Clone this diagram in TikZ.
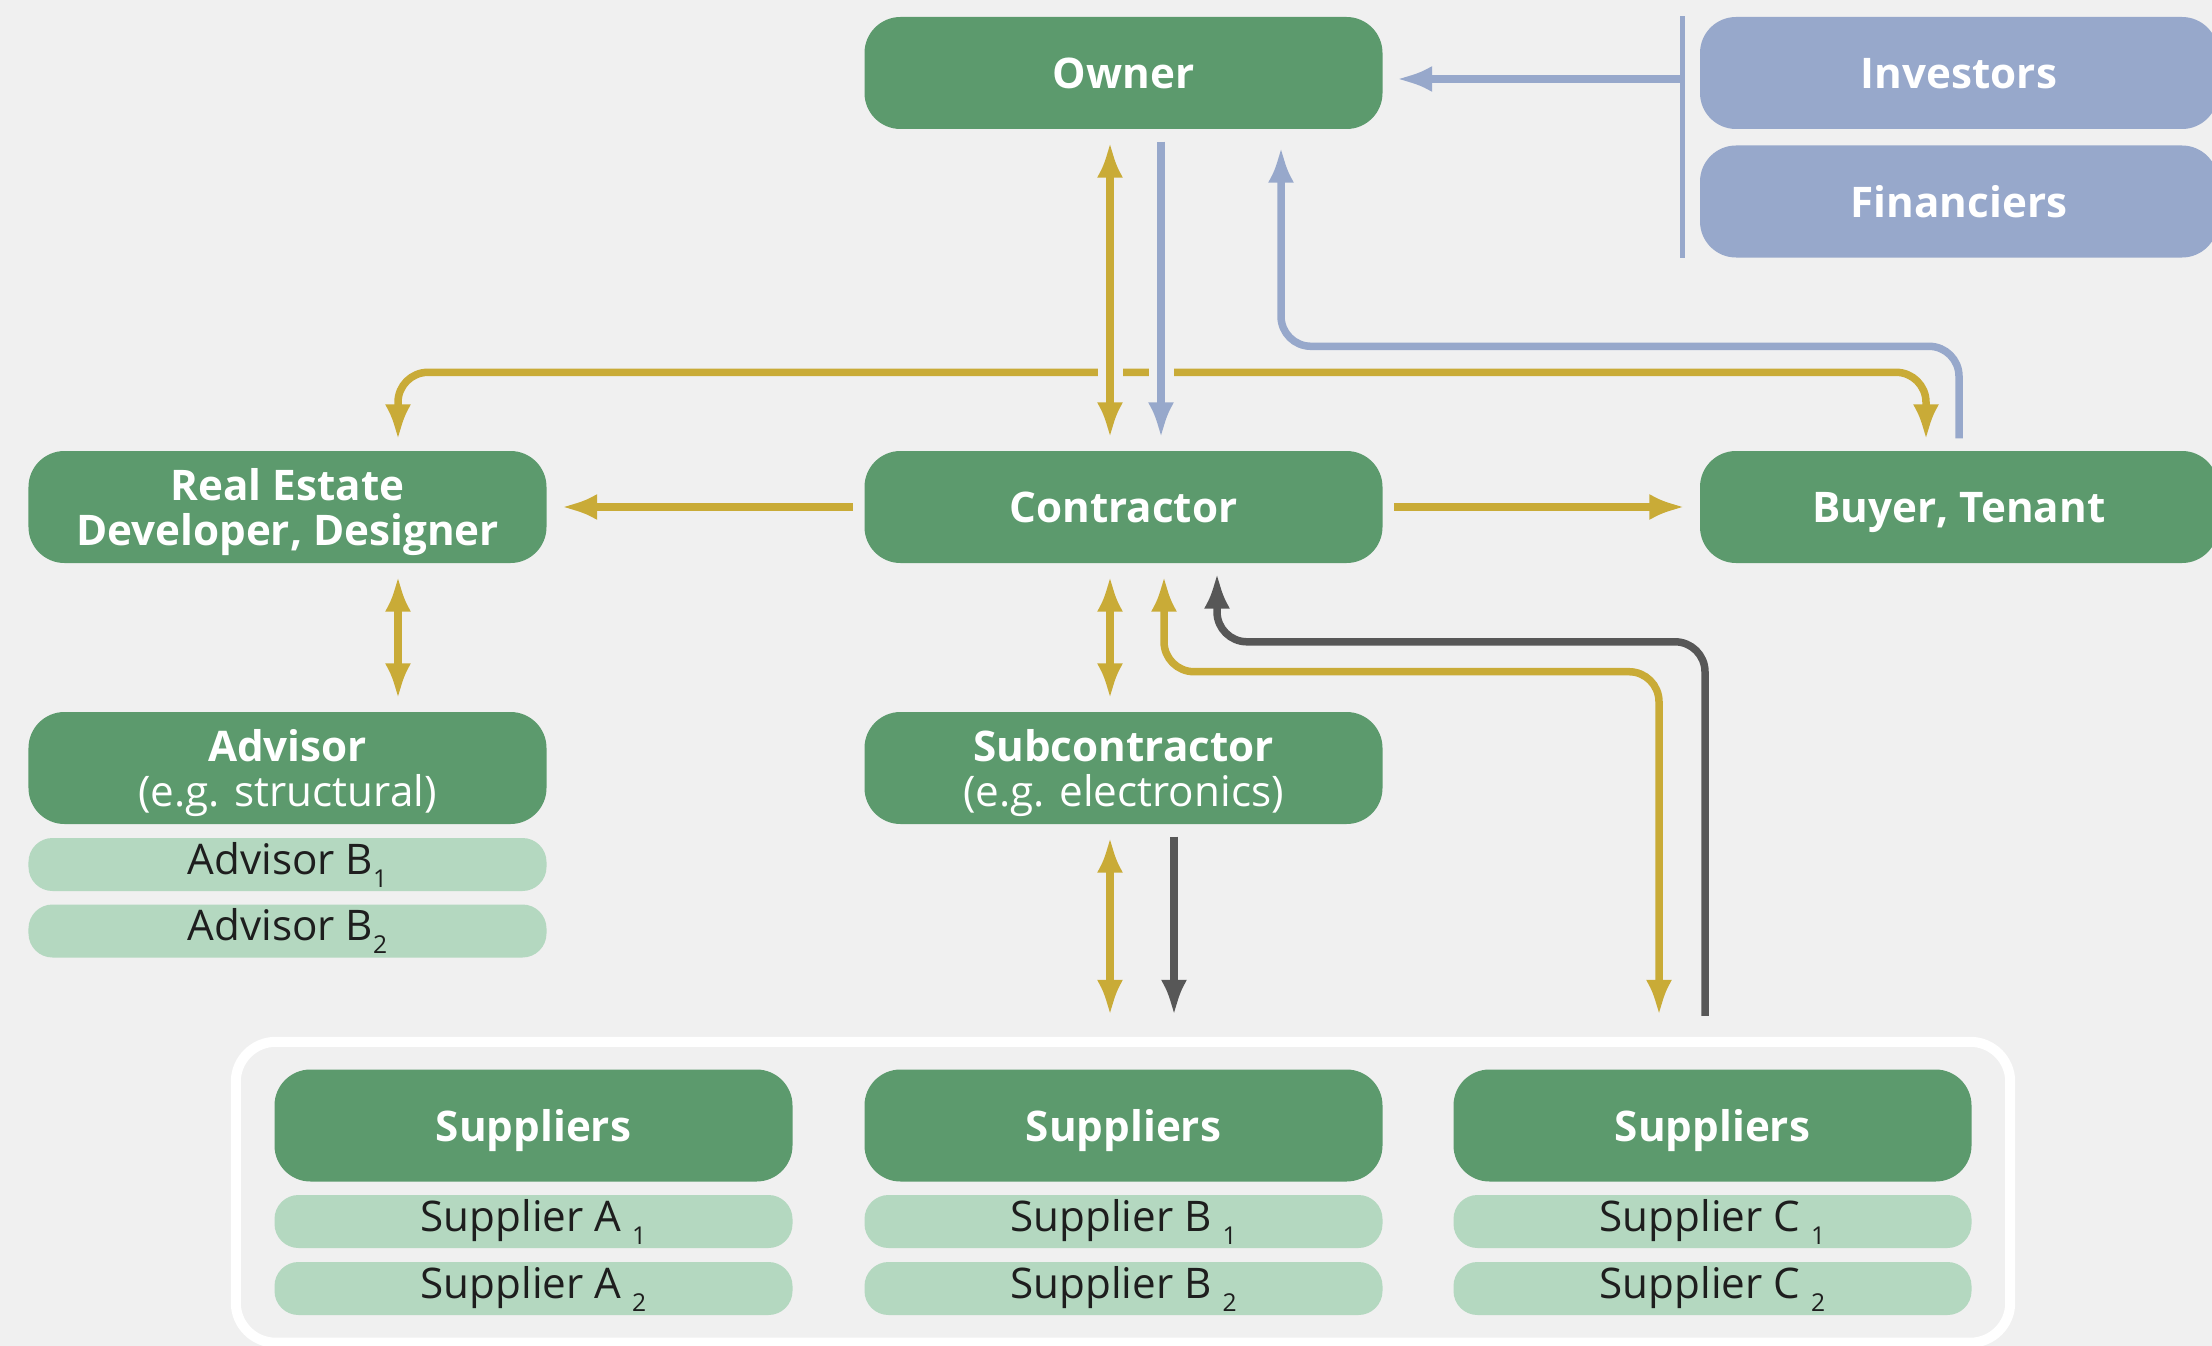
\documentclass[tikz,border=0pt]{standalone}
\usepackage{fontspec}
\setmainfont{Open Sans}
\usetikzlibrary{positioning, arrows.meta, fit}
\definecolor{leaf}{HTML}{5C9A6D}
\definecolor{mint}{HTML}{B4D8C0}
\definecolor{steel}{HTML}{97A8CB}
\definecolor{mustard}{HTML}{C9AB37}
\definecolor{slate}{HTML}{575757}
\definecolor{paper}{HTML}{F0F0F0}
\definecolor{ink}{HTML}{1E1E1E}
\newcommand\lowsub[1]{\raisebox{-3.7pt}{\fontsize{7}{7}\selectfont #1}}
\tikzset{
  mainbox/.style={fill=leaf, text=white, rounded corners=3.6mm, minimum width=51.8mm,
                  minimum height=11.2mm, inner sep=0pt, align=center, text depth=0pt,
                  font=\fontsize{12}{12.6}\selectfont\bfseries},
  fundbox/.style={mainbox, fill=steel},
  itembox/.style={fill=mint, text=ink, rounded corners=2.4mm, minimum width=51.8mm,
                  minimum height=5.3mm, inner sep=0pt, font=\fontsize{12}{12.6}\selectfont},
  link/.style={line width=0.75mm, rounded corners=3mm},
  goldln/.style={link, mustard},
  blueln/.style={link, steel},
  grayln/.style={link, slate},
  halo/.style={preaction={draw=paper, line width=2.5mm, -}}
}

\begin{document}
\begin{tikzpicture}[x=1mm, y=-1mm, >={Latex[length=3.6mm, width=2.6mm]}]
  \fill[paper] (0,0) rectangle (221.2,134.6);
  \useasboundingbox (0,0) rectangle (221.2,134.6);
  % ---- top row: owner and its money side ----
  \node[mainbox] (owner) at (112.35,7.3) {Owner};
  \node[fundbox] (investors) at (195.9,7.3) {Investors};
  \node[fundbox] (financiers) at (195.9,20.15) {Financiers};
  % ---- middle rows ----
  \node[mainbox] (developer) at (28.75,50.7) {Real Estate\\Developer, Designer};
  \node[mainbox] (contractor) at (112.35,50.7) {Contractor};
  \node[mainbox] (buyer) at (195.9,50.7) {Buyer, Tenant};
  \node[mainbox] (advisor) at (28.75,76.8) {Advisor\\{\mdseries(e.g. structural)}};
  \node[itembox] (advB1) at (28.75,86.45) {Advisor B\lowsub{1}};
  \node[itembox] (advB2) at (28.75,93.1) {Advisor B\lowsub{2}};
  \node[mainbox] (subcon) at (112.35,76.8) {Subcontractor\\{\mdseries(e.g. electronics)}};
  % ---- suppliers ----
  \foreach \name/\x/\letter in {supA/53.35/A, supB/112.35/B, supC/171.25/C} {
    \node[mainbox] (\name) at (\x,112.55) {Suppliers};
    \node[itembox] (\name1) at (\x,122.15) {Supplier \letter\ \lowsub{1}};
    \node[itembox] (\name2) at (\x,128.85) {Supplier \letter\ \lowsub{2}};
  }
  \node[draw=white, line width=1mm, rounded corners=4mm, inner xsep=3.8mm, inner ysep=2.7mm,
        fit=(supA)(supC2)] (supply) {};
  % ---- money into owner ----
  \coordinate (fundbar) at (168.2,7.9);
  \draw[steel, line width=0.5mm] (investors.north -| fundbar) -- (financiers.south -| fundbar);
  \draw[blueln, ->] (fundbar) -- ([xshift=1.3mm]owner.east |- fundbar);
  \draw[blueln, ->] ([yshift=1.2mm]buyer.north) -- ++(0,-9.2)
        -| ([xshift=15.75mm, yshift=-1.7mm]owner.south);
  % ---- owner links ----
  \draw[goldln, <->] ([xshift=11.05mm, yshift=1mm]developer.north) -- ++(0,-6.8)
        -| ([xshift=-3.3mm, yshift=1mm]buyer.north);
  \draw[goldln, <->, halo] ([xshift=-1.35mm, yshift=-1.2mm]owner.south)
        -- ([xshift=-1.35mm, yshift=1.2mm]contractor.north);
  \draw[blueln, ->, halo] ([xshift=3.75mm, yshift=-1.2mm]owner.south)
        -- ([xshift=3.75mm, yshift=1.2mm]contractor.north);
  % ---- contractor links ----
  \draw[goldln, ->] ([xshift=-1.1mm]contractor.west) -- ([xshift=1.4mm]developer.east);
  \draw[goldln, ->] ([xshift=1.1mm]contractor.east) -- ([xshift=-1.4mm]buyer.west);
  \draw[goldln, <->] ([xshift=11.05mm, yshift=-1.2mm]developer.south)
        -- ([xshift=11.05mm, yshift=1.2mm]advisor.north);
  \draw[goldln, <->] ([xshift=-1.35mm, yshift=-1.2mm]contractor.south)
        -- ([xshift=-1.35mm, yshift=1.2mm]subcon.north);
  \draw[goldln, <->] ([xshift=4.05mm, yshift=-1.2mm]contractor.south) -- ++(0,9.6)
        -| ([xshift=-5.35mm, yshift=5.3mm]supC.north);
  \draw[grayln, ->] ([xshift=-0.75mm, yshift=5.3mm]supC.north) -- ++(0,-37.4)
        -| ([xshift=9.35mm, yshift=-0.9mm]contractor.south);
  % ---- subcontractor to suppliers ----
  \draw[goldln, <->] ([xshift=-1.35mm, yshift=-1.2mm]subcon.south)
        -- ([xshift=-1.35mm, yshift=5.3mm]supB.north);
  \draw[grayln, ->] ([xshift=5.05mm, yshift=-1.2mm]subcon.south)
        -- ([xshift=5.05mm, yshift=5.3mm]supB.north);
\end{tikzpicture}
\end{document}
